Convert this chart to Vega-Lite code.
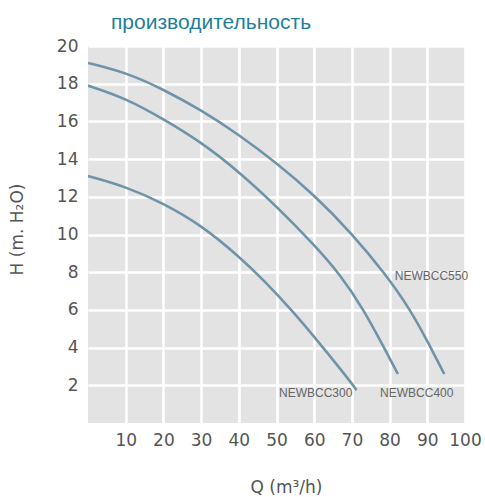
{
  "$schema": "https://vega.github.io/schema/vega-lite/v6.json",
  "autosize": "none",
  "width": 377,
  "height": 377,
  "padding": {"left": 88, "top": 46, "right": 20, "bottom": 74},
  "background": "white",
  "title": {
    "text": "производительность",
    "anchor": "start",
    "frame": "group",
    "dx": 23,
    "offset": 4,
    "font": "Liberation Sans",
    "fontSize": 21,
    "fontWeight": "normal",
    "color": "#1f7f9b"
  },
  "config": {
    "view": {"fill": "#e3e3e3", "stroke": null},
    "axis": {
      "domain": false,
      "ticks": false,
      "grid": true,
      "gridColor": "white",
      "gridWidth": 2.6,
      "gridOpacity": 1,
      "labelOverlap": false,
      "labelFlush": false,
      "labelFont": "DejaVu Sans",
      "labelFontSize": 17,
      "labelColor": "#555555",
      "titleFont": "DejaVu Sans",
      "titleFontSize": 17,
      "titleFontWeight": "normal",
      "titleColor": "#555555"
    }
  },
  "datasets": {
    "curves": [
      {"pump": "NEWBCC550", "Q": 0, "H": 19.1},
      {"pump": "NEWBCC550", "Q": 10, "H": 18.6},
      {"pump": "NEWBCC550", "Q": 20, "H": 17.7},
      {"pump": "NEWBCC550", "Q": 30, "H": 16.6},
      {"pump": "NEWBCC550", "Q": 40, "H": 15.3},
      {"pump": "NEWBCC550", "Q": 50, "H": 13.8},
      {"pump": "NEWBCC550", "Q": 60, "H": 12.1},
      {"pump": "NEWBCC550", "Q": 70, "H": 10.05},
      {"pump": "NEWBCC550", "Q": 78.5, "H": 8},
      {"pump": "NEWBCC550", "Q": 85.6, "H": 6},
      {"pump": "NEWBCC550", "Q": 90.9, "H": 4},
      {"pump": "NEWBCC550", "Q": 94.5, "H": 2.6},
      {"pump": "NEWBCC400", "Q": 0, "H": 17.9},
      {"pump": "NEWBCC400", "Q": 10, "H": 17.23},
      {"pump": "NEWBCC400", "Q": 20, "H": 16.13},
      {"pump": "NEWBCC400", "Q": 30, "H": 14.9},
      {"pump": "NEWBCC400", "Q": 40, "H": 13.34},
      {"pump": "NEWBCC400", "Q": 50, "H": 11.5},
      {"pump": "NEWBCC400", "Q": 60, "H": 9.45},
      {"pump": "NEWBCC400", "Q": 66.6, "H": 7.95},
      {"pump": "NEWBCC400", "Q": 73.2, "H": 6},
      {"pump": "NEWBCC400", "Q": 78.5, "H": 4},
      {"pump": "NEWBCC400", "Q": 82.2, "H": 2.6},
      {"pump": "NEWBCC300", "Q": 0, "H": 13.1},
      {"pump": "NEWBCC300", "Q": 10, "H": 12.54},
      {"pump": "NEWBCC300", "Q": 20, "H": 11.66},
      {"pump": "NEWBCC300", "Q": 30, "H": 10.5},
      {"pump": "NEWBCC300", "Q": 40, "H": 8.85},
      {"pump": "NEWBCC300", "Q": 47, "H": 7.5},
      {"pump": "NEWBCC300", "Q": 54, "H": 6},
      {"pump": "NEWBCC300", "Q": 62.4, "H": 4},
      {"pump": "NEWBCC300", "Q": 70.4, "H": 2},
      {"pump": "NEWBCC300", "Q": 71.2, "H": 1.74}
    ],
    "labels": [
      {"pump": "NEWBCC550", "Q": 91.1, "H": 7.8},
      {"pump": "NEWBCC400", "Q": 87.2, "H": 1.6},
      {"pump": "NEWBCC300", "Q": 60.4, "H": 1.6}
    ]
  },
  "layer": [
    {
      "data": {"name": "curves"},
      "mark": {"type": "line", "interpolate": "basis", "color": "#6f94a9", "strokeWidth": 2.6, "clip": true},
      "encoding": {
        "x": {
          "field": "Q", "type": "quantitative",
          "scale": {"domain": [0, 100], "nice": false, "zero": false},
          "axis": {
            "values": [10, 20, 30, 40, 50, 60, 70, 80, 90, 100],
            "labelPadding": 9,
            "title": "Q (m³/h)",
            "titleX": 198,
            "titleY": 64,
            "titleBaseline": "middle"
          }
        },
        "y": {
          "field": "H", "type": "quantitative",
          "scale": {"domain": [0, 20], "nice": false},
          "axis": {
            "values": [2, 4, 6, 8, 10, 12, 14, 16, 18, 20],
            "labelPadding": 10,
            "title": "H (m. H₂O)",
            "titleX": -71,
            "titleY": 183,
            "titleBaseline": "middle",
            "titleAngle": -90
          }
        },
        "detail": {"field": "pump", "type": "nominal"}
      }
    },
    {
      "data": {"name": "labels"},
      "mark": {"type": "text", "font": "Liberation Sans", "fontSize": 12, "color": "#666666", "align": "center", "baseline": "middle"},
      "encoding": {
        "x": {"field": "Q", "type": "quantitative"},
        "y": {"field": "H", "type": "quantitative"},
        "text": {"field": "pump", "type": "nominal"}
      }
    }
  ]
}
